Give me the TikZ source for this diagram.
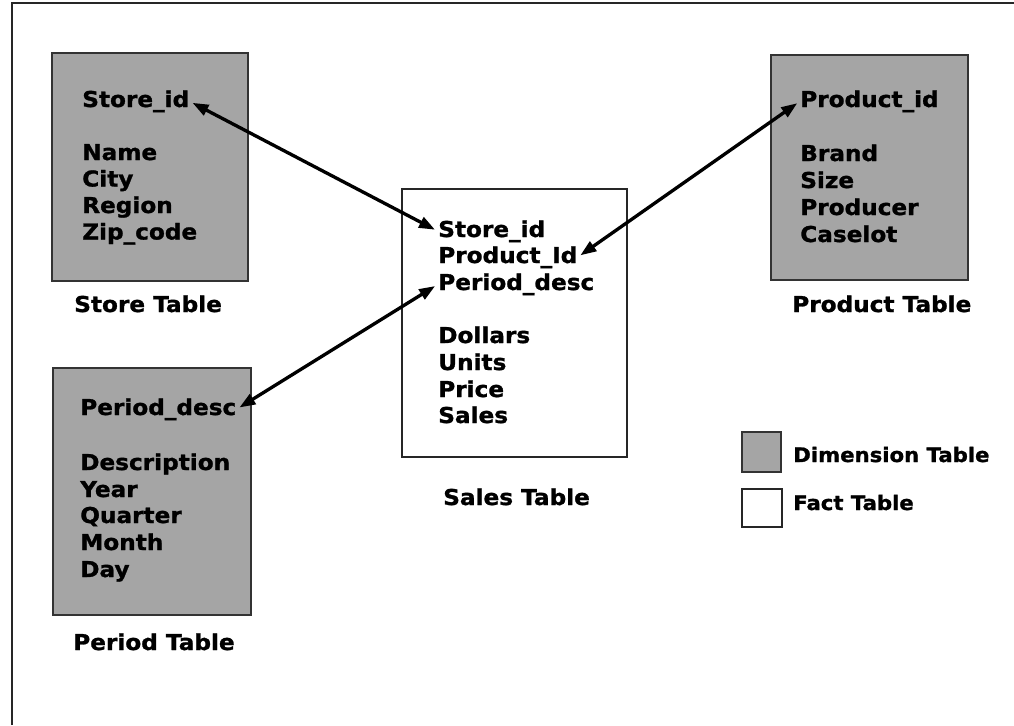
\documentclass[tikz,border=0pt]{standalone}
\usepackage{fontspec}
\setmainfont{DejaVu Sans}[BoldFeatures={FakeBold=1.2,FakeStretch=1.06}]
\usetikzlibrary{arrows.meta}
\definecolor{dimgray}{RGB}{165,165,165}
\begin{document}
\begin{tikzpicture}[x=0.75pt,y=-0.75pt,
  txt/.style={font=\bfseries\fontsize{16.4}{19}\selectfont, inner sep=0pt, anchor=base west},
  lgd/.style={font=\bfseries\fontsize{15}{18}\selectfont, inner sep=0pt, anchor=base west},
  dimbox/.style={fill=dimgray, draw=black!80, line width=1.1pt},
  factbox/.style={fill=white, draw=black!85, line width=1.1pt},
  frame/.style={draw=black!85, line width=1.3pt},
  link/.style={line width=2.5pt, {Triangle[length=12pt,width=8.5pt]}-{Triangle[length=12pt,width=8.5pt]}, shorten >=2.5pt, shorten <=2.5pt}
]
\useasboundingbox (0,0) rectangle (1014,725);
% outer frame (left and top edges)
\draw[frame] (12,725) -- (12,3) -- (1014,3);

% boxes
\draw[dimbox] (52,53) rectangle (248,281);
\draw[dimbox] (53,368) rectangle (251,615);
\draw[dimbox] (771,55) rectangle (968,280);
\draw[factbox] (402,189) rectangle (627,457);
\draw[dimbox] (742,432) rectangle (781,472);
\draw[factbox] (742,489) rectangle (782,527);

% Store table
\node[txt] (st1) at (82,107) {Store\_id};
\node[txt] (st2) at (82,160) {Name};
\node[txt] (st3) at (82,186.5) {City};
\node[txt] (st4) at (82,213) {Region};
\node[txt] (st5) at (82,239.5) {Zip\_code};
\node[txt] (stl) at (74,312) {Store Table};

% Period table
\node[txt] (pe1) at (80,415) {Period\_desc};
\node[txt] (pe2) at (80,470) {Description};
\node[txt] (pe3) at (80,497) {Year};
\node[txt] (pe4) at (80,523) {Quarter};
\node[txt] (pe5) at (80,550) {Month};
\node[txt] (pe6) at (80,577) {Day};
\node[txt] (pel) at (73,650) {Period Table};

% Product table
\node[txt] (pr1) at (800,107) {Product\_id};
\node[txt] (pr2) at (800,161) {Brand};
\node[txt] (pr3) at (800,188) {Size};
\node[txt] (pr4) at (800,215) {Producer};
\node[txt] (pr5) at (800,242) {Caselot};
\node[txt] (prl) at (792,312) {Product Table};

% Sales table
\node[txt] (sa1) at (438,237) {Store\_id};
\node[txt] (sa2) at (438,263) {Product\_Id};
\node[txt] (sa3) at (438,290) {Period\_desc};
\node[txt] (sa4) at (438,343) {Dollars};
\node[txt] (sa5) at (438,370) {Units};
\node[txt] (sa6) at (438,397) {Price};
\node[txt] (sa7) at (438,423) {Sales};
\node[txt] (sal) at (443,505) {Sales Table};

% legend
\node[lgd] (lg1) at (793,462) {Dimension Table};
\node[lgd] (lg2) at (793,510) {Fact Table};

% links
\draw[link] (st1.east) -- (sa1.west);
\draw[link] (pr1.west) -- (sa2.east);
\draw[link] (pe1.east) -- (sa3.west);
\end{tikzpicture}
\end{document}
